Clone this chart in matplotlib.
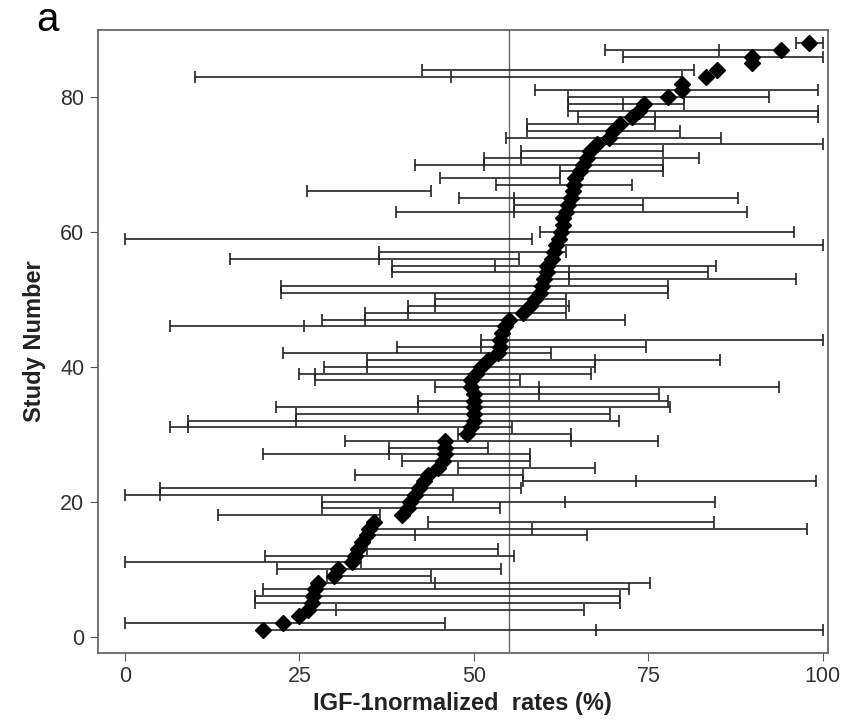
import numpy as np
import matplotlib
matplotlib.use("Agg")
import matplotlib.pyplot as plt

nan = np.nan

# Study numbers
study = np.arange(1, 89)

# IGF-1 normalized rate (diamonds)
rate = [19.8, 22.7, 24.9, 26.2, 26.8, 26.9, 27.3, 27.6, 30.0, 30.6,
        32.6, 33.0, 33.4, 34.0, 34.7, 35.0, 35.7, 39.7, 40.5, 40.8,
        41.5, 42.2, 42.8, 43.5, 44.9, 45.6, 45.9, 45.9, 45.9, 49.0,
        49.6, 50.0, 50.0, 50.0, 50.0, 50.0, 49.6, 49.6, 50.3, 51.0,
        52.0, 53.4, 53.7, 53.7, 54.0, 54.4, 55.0, 57.1, 58.1, 58.8,
        59.5, 59.8, 60.1, 60.5, 60.5, 61.2, 61.5, 61.8, 62.2, 62.5,
        62.8, 62.8, 63.2, 63.5, 63.9, 64.2, 64.3, 64.5, 65.2, 65.6,
        66.2, 66.6, 67.6, 69.3, 70.0, 71.0, 72.7, 73.7, 74.4, 77.8,
        79.8, 79.8, 83.2, 84.9, 89.8, 89.8, 94.0, 98.0]

# Range lower / upper ends
low = [20, 0, nan, 26.2, 18.6, 18.6, 19.8, 27.6, 29, 21.8,
       0, 20.1, 34.7, nan, 34.7, 35, 43.5, 13.4, 28.3, 28.3,
       0, 5, 57, 33, 47.8, 39.7, 19.8, 37.9, 31.5, 47.8,
       6.4, 9, 24.5, 21.6, 42, 50, 44.5, 27.3, 25, 28.5,
       34.7, 22.7, 39, 51, nan, 6.4, 28.3, 34.4, 40.5, 44.5,
       22.3, 22.3, 60.1, 38.3, 38.3, 15, 36.4, 61.8, 0, 59.5,
       nan, nan, 38.8, 55.7, 47.9, 26.1, 53.2, 45.2, 62.3, 41.6,
       51.5, 56.8, 67.6, 54.6, 57.6, 57.6, 64.9, 63.5, 63.5, 63.5,
       58.8, nan, 10.1, 42.5, nan, 71.3, 68.8, 96.1]

high = [100, 45.9, nan, 65.8, 71, 71, 72.2, 75.2, 43.9, 53.9,
        33.8, 55.8, 53.5, nan, 66.2, 97.8, 84.4, 36.5, 53.7, 84.5,
        47, 56.7, 99, 57, 67.4, 58, 58, 52, 76.4, 63.9,
        55.4, 70.8, 69.5, 78.1, 77.8, 76.5, 93.7, 56.6, 66.8, 67.4,
        85.2, 61, 74.7, 100, nan, 55, 71.7, 63.2, 63.7, 63.2,
        77.8, 77.8, 96.2, 83.5, 84.7, 56.4, 63.2, 100, 58.4, 95.9,
        nan, nan, 89.2, 74.2, 87.9, 43.9, 72.7, 62.3, 77.1, 77.1,
        82.2, 77.1, 100, 85.4, 79.6, 76, 99.3, 99.3, 80.1, 92.3,
        99.3, nan, 79.8, 81.5, nan, 100, 94, 100]

# Extra tick inside some ranges
mid = [67.5, nan, nan, 30.2, nan, nan, nan, 44.5, nan, nan,
       nan, nan, nan, nan, 41.6, 58.4, nan, nan, nan, 63,
       5, nan, 73.2, nan, nan, nan, 37.9, nan, 63.9, nan,
       9, 24.5, nan, 42, nan, 59.3, 59.3, nan, 27.3, 34.7,
       67.4, nan, 51, nan, nan, 25.6, 34.4, 40.5, 44.5, nan,
       nan, nan, 63.7, 63.7, 53, 36.4, nan, nan, nan, nan,
       nan, nan, 55.7, nan, 55.7, nan, nan, nan, nan, 51.5,
       56.8, nan, nan, nan, nan, nan, 76, nan, 71.3, 80.1,
       nan, nan, 46.7, nan, nan, nan, 85.1, nan]

ref_line = 55

plt.rcParams["font.family"] = ["Liberation Sans Narrow", "Liberation Sans", "DejaVu Sans"]

fig = plt.figure(figsize=(8.42, 7.22), dpi=100)
ax = fig.add_axes([0.116, 0.096, 0.867, 0.862])

low = np.array(low)
high = np.array(high)
mid = np.array(mid)

# Range lines with caps
ok = ~np.isnan(low)
ax.hlines(study[ok], low[ok], high[ok], color="#222222", linewidth=1.2, zorder=2)
ax.plot(low[ok], study[ok], "|", color="#222222", markersize=9, markeredgewidth=1.2, zorder=2)
ax.plot(high[ok], study[ok], "|", color="#222222", markersize=9, markeredgewidth=1.2, zorder=2)
ok2 = ~np.isnan(mid)
ax.plot(mid[ok2], study[ok2], "|", color="#222222", markersize=9, markeredgewidth=1.2, zorder=2)

# Reference line
ax.axvline(ref_line, color="#666666", linewidth=1, zorder=1)

# Diamonds
ax.plot(rate, study, "D", color="black", markersize=8.5, zorder=3)

ax.set_xlim(-3.9, 100.7)
ax.set_ylim(-2.4, 89.9)
ax.set_xticks([0, 25, 50, 75, 100])
ax.set_yticks([0, 20, 40, 60, 80])
ax.tick_params(labelsize=15.5, length=6, color="#555555", labelcolor="#333333")
for s in ax.spines.values():
    s.set_color("#666666")
    s.set_linewidth(1.3)

ax.set_xlabel("IGF-1normalized  rates (%)", fontsize=17, fontweight="bold", color="#222222")
ax.set_ylabel("Study Number", fontsize=17, fontweight="bold", color="#222222", labelpad=10)

fig.text(0.056, 0.972, "a", fontsize=29, ha="center", va="center", family="Liberation Sans")

fig.savefig("out.png", dpi=100)
